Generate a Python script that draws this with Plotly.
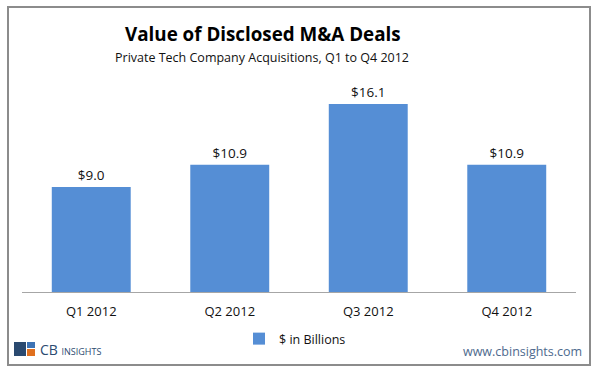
import plotly.graph_objects as go

categories = ["Q1 2012", "Q2 2012", "Q3 2012", "Q4 2012"]
values = [9.0, 10.9, 16.1, 10.9]
series_name = "$ in Billions"

W, H = 600, 369
L, R, T, B = 22, 24, 80, 77
PW, PH = W - L - R, H - T - B

def px(x):
    return (x - L) / PW

def py(y):
    return (H - B - y) / PH

BAR = "#558ed5"
FONT = "Open Sans"

fig = go.Figure()
fig.add_trace(go.Bar(
    x=categories, y=values, name=series_name,
    marker=dict(color=BAR, line=dict(width=0)),
    text=values, texttemplate="$%{y:.1f}", textposition="outside",
    textfont=dict(family=FONT, size=13.5, color="#111"),
    cliponaxis=False, showlegend=True,
))

fig.update_layout(
    width=W, height=H,
    margin=dict(l=L, r=R, t=T, b=B, autoexpand=False),
    paper_bgcolor="white", plot_bgcolor="white",
    bargap=0.43,
    font=dict(family=FONT, color="#111"),
    xaxis=dict(showline=True, linecolor="#a6a6a6", linewidth=1, ticks="",
               tickfont=dict(size=13, family=FONT, color="#111"), showgrid=False,
               ticklabelstandoff=7, fixedrange=True),
    yaxis=dict(range=[0, 18.15], visible=False, showgrid=False, fixedrange=True),
    showlegend=True,
    legend=dict(orientation="h", x=px(295), xanchor="center", y=py(339), yanchor="middle",
                font=dict(size=12.5, family=FONT, color="#111"), bgcolor="rgba(0,0,0,0)",
                itemwidth=30),
)

# Title & subtitle
fig.add_annotation(text="<b>Value of Disclosed M&A Deals</b>", xref="paper", yref="paper",
                   x=0.5 * (px(130) + px(396)), y=py(34), showarrow=False,
                   font=dict(size=18.8, family=FONT, color="#000"), yanchor="middle")
fig.add_annotation(text="Private Tech Company Acquisitions, Q1 to Q4 2012", xref="paper", yref="paper",
                   x=0.5 * (px(115) + px(408)), y=py(57), showarrow=False,
                   font=dict(size=12.5, family=FONT, color="#111"), yanchor="middle")

# Frame border
fig.add_shape(type="rect", xref="paper", yref="paper",
              x0=px(8), x1=px(590), y0=py(365), y1=py(7),
              line=dict(color="#8c8c8c", width=2), fillcolor="rgba(0,0,0,0)", layer="below")

# Website
fig.add_annotation(text="www.cbinsights.com", xref="paper", yref="paper",
                   x=px(584), y=py(351), xanchor="right", yanchor="middle", showarrow=False,
                   font=dict(size=12.5, family=FONT, color="#4e6a8e"))

# Logo
fig.add_shape(type="rect", xref="paper", yref="paper", x0=px(14), x1=px(26), y0=py(356), y1=py(342),
              fillcolor="#2b4a70", line=dict(width=0))
fig.add_shape(type="rect", xref="paper", yref="paper", x0=px(27), x1=px(35), y0=py(348), y1=py(342),
              fillcolor="#3d73b5", line=dict(width=0))
fig.add_shape(type="rect", xref="paper", yref="paper", x0=px(27), x1=px(35), y0=py(356), y1=py(349),
              fillcolor="#e0701e", line=dict(width=0))
fig.add_annotation(text="CB <span style='font-size:9px'>INSIGHTS</span>", xref="paper", yref="paper",
                   x=px(38), y=py(349), xanchor="left", yanchor="middle", showarrow=False,
                   font=dict(size=14, family=FONT, color="#2b4a70"))

fig.write_html("out.html", config={"displayModeBar": False},
               post_script="document.body.style.margin='0';document.body.style.overflow='hidden';")
